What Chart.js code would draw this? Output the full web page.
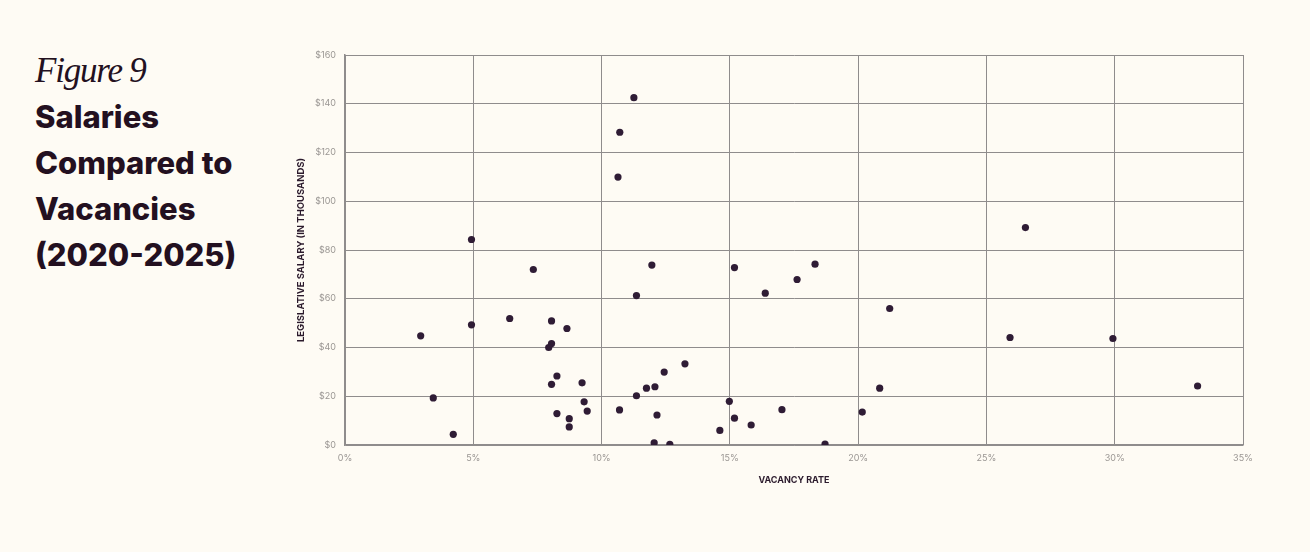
<!DOCTYPE html>
<html>
<head>
<meta charset="utf-8">
<script src="https://cdn.jsdelivr.net/npm/chart.js@4/dist/chart.umd.min.js"></script>
<style>
  html, body { margin: 0; padding: 0; background: #fefbf4; }
  #wrap { position: relative; width: 1310px; height: 552px; overflow: hidden; }
  #chart { position: absolute; left: 0; top: 0; }
  .heading { position: absolute; left: 35px; top: 49px; color: #231020; }
  .fig { font-family: "Liberation Serif", serif; font-style: italic; font-size: 35px; line-height: 44px; letter-spacing: -1.2px; }
  .title { font-family: Inter, sans-serif; font-weight: 800; font-size: 31px; line-height: 46px; letter-spacing: 0px; margin-top: 1px; }
</style>
</head>
<body>
<div id="wrap">
  <div class="heading">
    <div class="fig">Figure 9</div>
    <div class="title">Salaries<br>Compared to<br>Vacancies<br>(2020-2025)</div>
  </div>
  <canvas id="chart" width="1310" height="552"></canvas>
</div>
<script>
// valeurs
const vacancyRate = [
  2.95, 3.44, 4.22, 4.93, 4.93, 6.42, 7.34, 8.05, 8.05, 7.94,
  8.65, 8.26, 8.05, 9.24, 9.32, 9.44, 8.26, 8.74, 8.74, 10.70,
  10.71, 10.64, 11.26, 11.36, 11.96, 11.36, 11.75, 12.08, 12.16, 12.44,
  13.25, 12.05, 12.66, 14.61, 14.98, 15.18, 15.18, 15.83, 16.38, 17.03,
  17.62, 18.32, 18.71, 20.16, 20.84, 21.23, 25.92, 26.52, 29.93, 33.23
];
const salary = [
  44.8, 19.3, 4.4, 84.3, 49.3, 51.9, 72.0, 50.9, 41.6, 40.0,
  47.8, 28.3, 24.9, 25.5, 17.7, 13.9, 12.9, 10.8, 7.4, 14.4,
  128.3, 109.9, 142.5, 61.3, 73.8, 20.2, 23.3, 23.9, 12.3, 29.9,
  33.3, 0.9, 0.3, 6.0, 17.9, 11.0, 72.8, 8.2, 62.3, 14.5,
  67.9, 74.2, 0.4, 13.5, 23.3, 56.0, 44.1, 89.2, 43.7, 24.2
];
const xTicks = [0, 5, 10, 15, 20, 25, 30, 35];
const yTicks = [0, 20, 40, 60, 80, 100, 120, 140, 160];

const points = vacancyRate.map((v, i) => ({ x: v, y: salary[i] }));

const gridColor = '#8f8c8c';
const tickColor = '#9a9693';
const darkText = '#2b1a2c';

new Chart(document.getElementById('chart').getContext('2d'), {
  type: 'scatter',
  data: {
    datasets: [{
      data: points,
      backgroundColor: '#2f1c35',
      borderColor: '#2f1c35',
      pointRadius: 3.6,
      pointHoverRadius: 3.6,
      borderWidth: 0
    }]
  },
  options: {
    responsive: false,
    animation: false,
    layout: { padding: { left: 285, right: 67, top: 55, bottom: 66 } },
    plugins: { legend: { display: false }, tooltip: { enabled: false } },
    scales: {
      x: {
        type: 'linear',
        min: 0, max: 35,
        afterBuildTicks: s => { s.ticks = xTicks.map(v => ({ value: v })); },
        afterFit: s => { s.height = 41; },
        grid: { color: gridColor, lineWidth: 1, drawTicks: false },
        border: { color: gridColor, width: 1.5 },
        ticks: {
          padding: 8,
          color: tickColor,
          font: { family: 'Inter', size: 9 },
          callback: v => v + '%'
        },
        title: {
          display: true,
          text: 'VACANCY RATE',
          color: darkText,
          font: { family: 'Inter', size: 9, weight: '700' },
          padding: { top: 4, bottom: 0 }
        }
      },
      y: {
        type: 'linear',
        min: 0, max: 160,
        afterBuildTicks: s => { s.ticks = yTicks.map(v => ({ value: v })); },
        afterFit: s => { s.width = 60; },
        grid: { color: gridColor, lineWidth: 1, drawTicks: false },
        border: { color: gridColor, width: 1.5 },
        ticks: {
          padding: 9,
          color: tickColor,
          font: { family: 'Inter', size: 9 },
          callback: v => '$' + v
        },
        title: {
          display: true,
          text: 'LEGISLATIVE SALARY (IN THOUSANDS)',
          color: darkText,
          font: { family: 'Inter', size: 9.5, weight: '700' },
          padding: { top: 10, bottom: 0 }
        }
      }
    }
  }
});
</script>
</body>
</html>
